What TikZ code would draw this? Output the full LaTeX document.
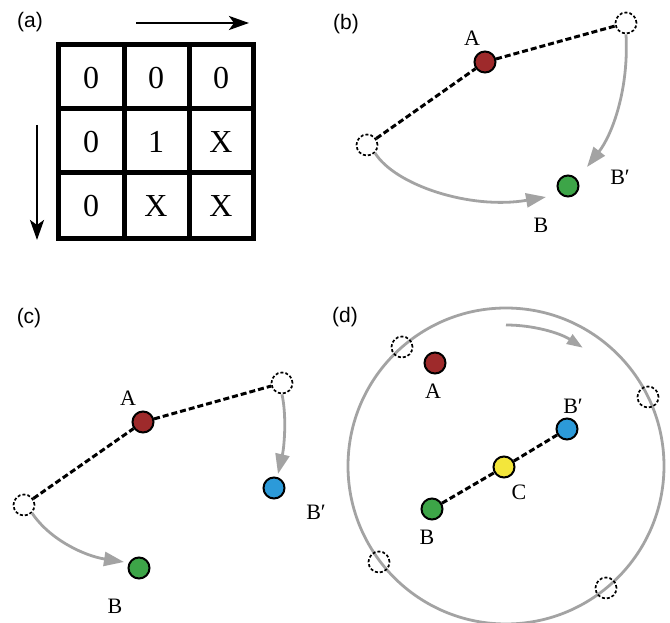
\documentclass[tikz,border=0pt]{standalone}
\usepackage{fontspec}
\setmainfont{Liberation Serif}
\newfontfamily\panelfont{Liberation Sans}
\usetikzlibrary{arrows.meta}
\definecolor{redA}{HTML}{9E2A2B}
\definecolor{greenB}{HTML}{3DA548}
\definecolor{blueB}{HTML}{2C9AD9}
\definecolor{yellowC}{HTML}{F3E63B}
\definecolor{arrgray}{HTML}{A3A3A3}
\begin{document}
\begin{tikzpicture}[x=1pt,y=-1pt,
  panel/.style={font=\panelfont\fontsize{21}{24}\selectfont},
  lbl/.style={font=\fontsize{22}{24}\selectfont, inner sep=0pt},
  cell/.style={font=\fontsize{32}{36}\selectfont, inner sep=0pt},
  dot/.style={circle, draw=black, line width=2pt, minimum size=21pt, inner sep=0pt},
  ghost/.style={circle, draw=black, dash pattern=on 3pt off 2pt, line width=1.7pt, minimum size=21pt, inner sep=0pt, fill=white},
  dashline/.style={draw=black, line width=3pt, dash pattern=on 6pt off 3pt},
  grayarrow/.style={draw=arrgray, line width=2.8pt, -{Triangle[length=20pt,width=14pt]}},
  blackarrow/.style={draw=black, line width=2.6pt, -{Stealth[length=20pt,width=14pt,inset=5pt]}},
  gridline/.style={line width=5pt}
]
\useasboundingbox (0,0) rectangle (670,623);

% ---------- (a) ----------
\node[panel] (la) at (30,22) {(a)};
\draw[gridline] (58,45) rectangle (253,239);
\draw[gridline] (124,45) -- (124,239);
\draw[gridline] (189,45) -- (189,239);
\draw[gridline] (58,109) -- (253,109);
\draw[gridline] (58,173) -- (253,173);
\node[cell] (c11) at (91,78) {0};
\node[cell] (c12) at (156,78) {0};
\node[cell] (c13) at (221,78) {0};
\node[cell] (c21) at (91,142) {0};
\node[cell] (c22) at (156,142) {1};
\node[cell] (c23) at (221,142) {X};
\node[cell] (c31) at (91,206) {0};
\node[cell] (c32) at (156,206) {X};
\node[cell] (c33) at (221,206) {X};
\coordinate (ha1) at (136,23);
\coordinate (ha2) at (249,23);
\coordinate (va1) at (37,125);
\coordinate (va2) at (37,240);
\draw[blackarrow] (ha1) -- (ha2);
\draw[blackarrow] (va1) -- (va2);

% ---------- (b) ----------
\node[panel] (lb) at (346,24) {(b)};
\node[ghost] (bq) at (626,23) {};
\node[ghost] (bp) at (367,145) {};
\node[dot, fill=redA] (bA) at (485,62) {};
\node[dot, fill=greenB] (bB) at (568,186) {};
\node[lbl] (bAl) at (472,38) {A};
\node[lbl] (bBl) at (541,225) {B};
\node[lbl] (bBpl) at (620,177) {B′};
\draw[dashline] (bp) -- (bA);
\draw[dashline] (bA) -- (bq);
\coordinate (bt1) at (587,167);
\coordinate (bt2) at (546,197);
\draw[grayarrow] (bq.south) .. controls (629,90) and (612,135) .. (bt1);
\draw[grayarrow] (bp.south east) .. controls (395,185) and (470,210) .. (bt2);

% ---------- (c) ----------
\node[panel] (lc) at (29,318) {(c)};
\node[ghost] (cq) at (282,383) {};
\node[ghost] (cp) at (24,505) {};
\node[dot, fill=redA] (cA) at (143,422) {};
\node[dot, fill=blueB] (cBp) at (274,488) {};
\node[dot, fill=greenB] (cB) at (139,568) {};
\node[lbl] (cAl) at (128,398) {A};
\node[lbl] (cBpl) at (316,512) {B′};
\node[lbl] (cBl) at (115,606) {B};
\draw[dashline] (cp) -- (cA);
\draw[dashline] (cA) -- (cq);
\coordinate (ct1) at (278,474);
\coordinate (ct2) at (124,562);
\draw[grayarrow] (cq.south) .. controls (287,418) and (284,448) .. (ct1);
\draw[grayarrow] (cp.south east) .. controls (50,540) and (85,556) .. (ct2);

% ---------- (d) ----------
\node[panel] (ld) at (345,317) {(d)};
\coordinate (O) at (506,466);
\draw[arrgray, line width=2.8pt] (O) circle[radius=158pt];
\draw[draw=arrgray, line width=2.8pt, -{Triangle[length=16pt,width=11pt]}] (O) ++(90:141pt) arc[start angle=90, end angle=57, radius=141pt];
\node[ghost, fill=none] (g1) at (402,347) {};
\node[ghost, fill=none] (g2) at (648,397) {};
\node[ghost, fill=none] (g3) at (379,562) {};
\node[ghost, fill=none] (g4) at (606,588) {};
\node[dot, fill=redA] (dA) at (435,363) {};
\node[dot, fill=blueB] (dBp) at (567,429) {};
\node[dot, fill=yellowC] (dC) at (504,467) {};
\node[dot, fill=greenB] (dB) at (432,509) {};
\draw[dashline] (dB) -- (dC);
\draw[dashline] (dC) -- (dBp);
\node[lbl] (dAl) at (433,391) {A};
\node[lbl] (dBpl) at (573,406) {B′};
\node[lbl] (dCl) at (519,492) {C};
\node[lbl] (dBl) at (427,537) {B};
\end{tikzpicture}
\end{document}
